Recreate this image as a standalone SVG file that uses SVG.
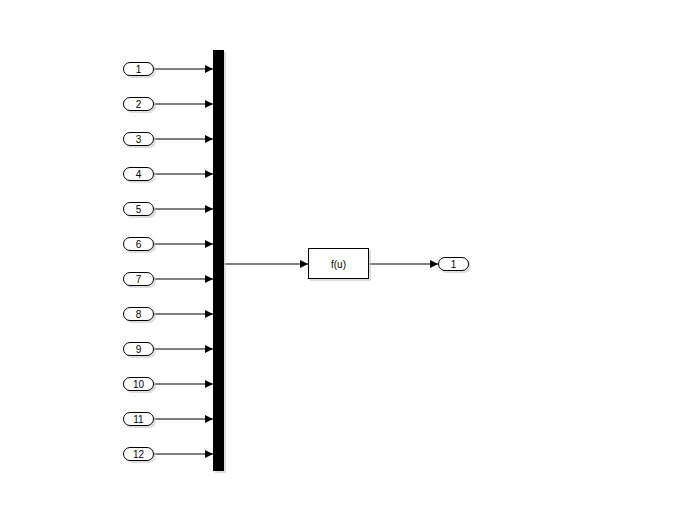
<svg xmlns="http://www.w3.org/2000/svg" width="697" height="509" viewBox="0 0 697 509">
<defs>
<style>
.pill{fill:#fff;stroke:#000;stroke-width:1}
.sh{fill:#c8c8c8;opacity:0.6}
.t{font-family:"Liberation Sans",Arial,sans-serif;font-size:10px;text-anchor:middle;fill:#000}
.w{stroke:#000;stroke-width:1;fill:none}
</style>
<marker id="ah" viewBox="0 0 10 10" refX="10" refY="5" markerWidth="8" markerHeight="8" markerUnits="userSpaceOnUse" orient="auto"><path d="M0,0 L10,5 L0,10 Z" fill="#000"/></marker>
</defs>
<rect width="697" height="509" fill="#fff"/>
<g id="connectors">
<line class="w" x1="154" y1="69" x2="213" y2="69" marker-end="url(#ah)"/>
<line class="w" x1="154" y1="104" x2="213" y2="104" marker-end="url(#ah)"/>
<line class="w" x1="154" y1="139" x2="213" y2="139" marker-end="url(#ah)"/>
<line class="w" x1="154" y1="174" x2="213" y2="174" marker-end="url(#ah)"/>
<line class="w" x1="154" y1="209" x2="213" y2="209" marker-end="url(#ah)"/>
<line class="w" x1="154" y1="244" x2="213" y2="244" marker-end="url(#ah)"/>
<line class="w" x1="154" y1="279" x2="213" y2="279" marker-end="url(#ah)"/>
<line class="w" x1="154" y1="314" x2="213" y2="314" marker-end="url(#ah)"/>
<line class="w" x1="154" y1="349" x2="213" y2="349" marker-end="url(#ah)"/>
<line class="w" x1="154" y1="384" x2="213" y2="384" marker-end="url(#ah)"/>
<line class="w" x1="154" y1="419" x2="213" y2="419" marker-end="url(#ah)"/>
<line class="w" x1="154" y1="454" x2="213" y2="454" marker-end="url(#ah)"/>
<line class="w" x1="224" y1="264" x2="308" y2="264" marker-end="url(#ah)"/>
<line class="w" x1="369" y1="264" x2="438" y2="264" marker-end="url(#ah)"/>
</g>
<g id="in1"><rect class="sh" x="125" y="64" width="31" height="14" rx="7"/><rect class="pill" x="123.5" y="62.5" width="30" height="13" rx="6.5"/><text class="t" x="138.5" y="72.5">1</text></g>
<g id="in2"><rect class="sh" x="125" y="99" width="31" height="14" rx="7"/><rect class="pill" x="123.5" y="97.5" width="30" height="13" rx="6.5"/><text class="t" x="138.5" y="107.5">2</text></g>
<g id="in3"><rect class="sh" x="125" y="134" width="31" height="14" rx="7"/><rect class="pill" x="123.5" y="132.5" width="30" height="13" rx="6.5"/><text class="t" x="138.5" y="142.5">3</text></g>
<g id="in4"><rect class="sh" x="125" y="169" width="31" height="14" rx="7"/><rect class="pill" x="123.5" y="167.5" width="30" height="13" rx="6.5"/><text class="t" x="138.5" y="177.5">4</text></g>
<g id="in5"><rect class="sh" x="125" y="204" width="31" height="14" rx="7"/><rect class="pill" x="123.5" y="202.5" width="30" height="13" rx="6.5"/><text class="t" x="138.5" y="212.5">5</text></g>
<g id="in6"><rect class="sh" x="125" y="239" width="31" height="14" rx="7"/><rect class="pill" x="123.5" y="237.5" width="30" height="13" rx="6.5"/><text class="t" x="138.5" y="247.5">6</text></g>
<g id="in7"><rect class="sh" x="125" y="274" width="31" height="14" rx="7"/><rect class="pill" x="123.5" y="272.5" width="30" height="13" rx="6.5"/><text class="t" x="138.5" y="282.5">7</text></g>
<g id="in8"><rect class="sh" x="125" y="309" width="31" height="14" rx="7"/><rect class="pill" x="123.5" y="307.5" width="30" height="13" rx="6.5"/><text class="t" x="138.5" y="317.5">8</text></g>
<g id="in9"><rect class="sh" x="125" y="344" width="31" height="14" rx="7"/><rect class="pill" x="123.5" y="342.5" width="30" height="13" rx="6.5"/><text class="t" x="138.5" y="352.5">9</text></g>
<g id="in10"><rect class="sh" x="125" y="379" width="31" height="14" rx="7"/><rect class="pill" x="123.5" y="377.5" width="30" height="13" rx="6.5"/><text class="t" x="138.5" y="387.5">10</text></g>
<g id="in11"><rect class="sh" x="125" y="414" width="31" height="14" rx="7"/><rect class="pill" x="123.5" y="412.5" width="30" height="13" rx="6.5"/><text class="t" x="138.5" y="422.5">11</text></g>
<g id="in12"><rect class="sh" x="125" y="449" width="31" height="14" rx="7"/><rect class="pill" x="123.5" y="447.5" width="30" height="13" rx="6.5"/><text class="t" x="138.5" y="457.5">12</text></g>
<g id="mux"><rect class="sh" x="215" y="52" width="11" height="421"/><rect x="213" y="50" width="11" height="421" fill="#000"/></g>
<g id="fcn"><rect class="sh" x="310" y="250" width="61" height="31"/><rect x="308.5" y="248.5" width="60" height="30" fill="#fff" stroke="#000"/><text class="t" x="338.5" y="267.5">f(u)</text></g>
<g id="out1"><rect class="sh" x="440" y="259" width="31" height="14" rx="7"/><rect class="pill" x="438.5" y="257.5" width="30" height="13" rx="6.5"/><text class="t" x="453.5" y="267.5">1</text></g>
</svg>
